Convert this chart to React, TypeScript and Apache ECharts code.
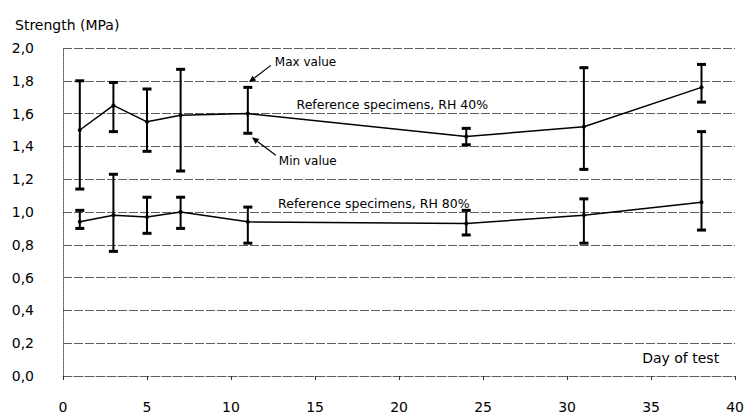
import React, { useEffect, useRef } from "react";
import * as echarts from "echarts";

// Test days (x axis)
const days = [1, 3, 5, 7, 11, 24, 31, 38];

// Reference specimens, RH 40% — mean, max, min strength (MPa)
const rh40Mean = [1.5, 1.65, 1.55, 1.59, 1.6, 1.46, 1.52, 1.76];
const rh40Max = [1.8, 1.79, 1.75, 1.87, 1.76, 1.51, 1.88, 1.9];
const rh40Min = [1.14, 1.49, 1.37, 1.25, 1.48, 1.41, 1.26, 1.67];

// Reference specimens, RH 80% — mean, max, min strength (MPa)
const rh80Mean = [0.94, 0.98, 0.97, 1.0, 0.94, 0.93, 0.98, 1.06];
const rh80Max = [1.01, 1.23, 1.09, 1.09, 1.03, 1.01, 1.08, 1.49];
const rh80Min = [0.9, 0.76, 0.87, 0.9, 0.81, 0.86, 0.81, 0.89];

const yTicks = [0, 0.2, 0.4, 0.6, 0.8, 1.0, 1.2, 1.4, 1.6, 1.8, 2.0];

const FONT = "DejaVu Sans";

const errorBarRender = (params: any, api: any) => {
  const x = api.value(0);
  const top = api.coord([x, api.value(2)]);
  const bottom = api.coord([x, api.value(1)]);
  const capHalf = 4.5;
  const style = { stroke: "#000", lineWidth: 2 };
  const capStyle = { stroke: "#000", lineWidth: 3 };
  return {
    type: "group",
    children: [
      { type: "line", shape: { x1: top[0], y1: top[1], x2: bottom[0], y2: bottom[1] }, style },
      { type: "line", shape: { x1: top[0] - capHalf, y1: top[1], x2: top[0] + capHalf, y2: top[1] }, style: capStyle },
      { type: "line", shape: { x1: bottom[0] - capHalf, y1: bottom[1], x2: bottom[0] + capHalf, y2: bottom[1] }, style: capStyle },
    ],
  };
};

const arrow = (from: number[], to: number[]) => {
  const dx = to[0] - from[0];
  const dy = to[1] - from[1];
  const len = Math.hypot(dx, dy);
  const ux = dx / len;
  const uy = dy / len;
  const hl = 7;
  const hw = 3;
  const bx = to[0] - ux * hl;
  const by = to[1] - uy * hl;
  return [
    { type: "line", shape: { x1: from[0], y1: from[1], x2: bx, y2: by }, style: { stroke: "#000", lineWidth: 1.2 } },
    {
      type: "polygon",
      shape: {
        points: [
          [to[0], to[1]],
          [bx - uy * hw, by + ux * hw],
          [bx + uy * hw, by - ux * hw],
        ],
      },
      style: { fill: "#000" },
    },
  ];
};

export default function App() {
  const ref = useRef<HTMLDivElement>(null);

  useEffect(() => {
    document.body.style.margin = "0";
    const chart = echarts.init(ref.current!, null, { renderer: "svg" });
    const gridLine = { color: "#5e5e5e", width: 1, type: [9, 2] as any };

    chart.setOption({
      animation: false,
      backgroundColor: "#fff",
      textStyle: { fontFamily: FONT, color: "#000" },
      title: {
        text: "Strength (MPa)",
        left: 10,
        top: 13,
        textStyle: { fontFamily: FONT, fontSize: 14, fontWeight: "normal", color: "#000" },
      },
      grid: { left: 63, right: 8, top: 48, bottom: 43, containLabel: false },
      xAxis: {
        type: "value",
        min: 0,
        max: 40,
        interval: 5,
        axisLine: { show: true, lineStyle: { ...gridLine } },
        axisTick: { show: true, length: 4, lineStyle: { color: "#333" } },
        axisLabel: { fontFamily: FONT, fontSize: 14, color: "#000", margin: 24 },
        splitLine: { show: false },
      },
      yAxis: {
        type: "value",
        min: yTicks[0],
        max: yTicks[yTicks.length - 1],
        interval: 0.2,
        axisLine: { show: true, lineStyle: { color: "#555", width: 1, type: "dotted" } },
        axisTick: { show: false },
        axisLabel: {
          fontFamily: FONT,
          fontSize: 14,
          color: "#000",
          margin: 29,
          formatter: (v: number) => v.toFixed(1).replace(".", ","),
        },
        splitLine: { show: true, lineStyle: gridLine },
      },
      series: [
        {
          type: "line",
          name: "RH 40%",
          data: days.map((d, i) => [d, rh40Mean[i]]),
          symbol: "circle",
          symbolSize: 4,
          itemStyle: { color: "#000" },
          lineStyle: { color: "#000", width: 1.5 },
          z: 3,
        },
        {
          type: "line",
          name: "RH 80%",
          data: days.map((d, i) => [d, rh80Mean[i]]),
          symbol: "circle",
          symbolSize: 4,
          itemStyle: { color: "#000" },
          lineStyle: { color: "#000", width: 1.5 },
          z: 3,
        },
        {
          type: "custom",
          name: "RH 40% range",
          renderItem: errorBarRender,
          data: days.map((d, i) => [d, rh40Min[i], rh40Max[i]]),
          encode: { x: 0, y: [1, 2] },
          z: 4,
        },
        {
          type: "custom",
          name: "RH 80% range",
          renderItem: errorBarRender,
          data: days.map((d, i) => [d, rh80Min[i], rh80Max[i]]),
          encode: { x: 0, y: [1, 2] },
          z: 4,
        },
      ],
    });

    // Annotations anchored to the data coordinates
    const px = (x: number, y: number) => chart.convertToPixel({ gridIndex: 0 }, [x, y]) as number[];
    const iAnn = days.indexOf(11);
    const maxPt = px(days[iAnn], rh40Max[iAnn]);
    const minPt = px(days[iAnn], rh40Min[iAnn]);
    const lbl40 = px(13.9, 1.655);
    const lbl80 = px(12.8, 1.05);
    const dayLbl = px(39.05, 0.11);

    const txt = (x: number, y: number, text: string, align = "left", size = 12) => ({
      type: "text",
      x,
      y,
      style: {
        text,
        fontFamily: FONT,
        fontSize: size,
        fill: "#000",
        align,
        verticalAlign: "middle",
      },
      z: 10,
    });

    chart.setOption({
      graphic: [
        txt(lbl40[0], lbl40[1], "Reference specimens, RH 40%", "left", 12.5),
        txt(lbl80[0], lbl80[1], "Reference specimens, RH 80%", "left", 12.5),
        txt(maxPt[0] + 27, maxPt[1] - 25, "Max value"),
        txt(minPt[0] + 31, minPt[1] + 28, "Min value"),
        txt(dayLbl[0], dayLbl[1], "Day of test", "right", 14),
        ...arrow([maxPt[0] + 23, maxPt[1] - 22], [maxPt[0] + 1, maxPt[1] - 5]),
        ...arrow([minPt[0] + 28, minPt[1] + 22], [minPt[0] + 4, minPt[1] + 4]),
      ],
    });

    return () => chart.dispose();
  }, []);

  return <div ref={ref} style={{ width: 747, height: 419 }} />;
}
